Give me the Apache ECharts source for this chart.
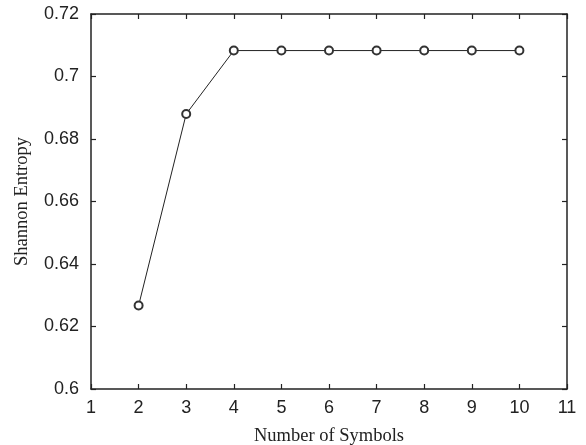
<!DOCTYPE html>
<html>
<head>
<meta charset="utf-8">
<script src="https://cdn.jsdelivr.net/npm/echarts@6/dist/echarts.min.js"></script>
<style>
  html, body { margin: 0; padding: 0; background: #fff; }
  #chart { width: 586px; height: 445px; }
</style>
</head>
<body>
<div id="chart"></div>
<script>
const symbols = [2, 3, 4, 5, 6, 7, 8, 9, 10];
const entropy = [0.6267, 0.688, 0.7083, 0.7083, 0.7083, 0.7083, 0.7083, 0.7083, 0.7083];

const chart = echarts.init(document.getElementById('chart'));

const axisLine = { lineStyle: { color: '#222', width: 1.5 } };
const tick = { inside: true, length: 5, lineStyle: { color: '#222', width: 1.2 } };
const tickFont = { fontFamily: 'Liberation Sans', fontSize: 18, color: '#222' };
const nameFont = { fontFamily: 'Liberation Serif', fontSize: 18.5, color: '#222' };

chart.setOption({
  animation: false,
  grid: { left: 91, right: 19, top: 14, bottom: 56, outerBoundsMode: 'none', containLabel: false },
  xAxis: [{
    type: 'value', min: 1, max: 11, interval: 1,
    name: 'Number of Symbols', nameLocation: 'middle', nameGap: 38,
    nameTextStyle: nameFont,
    axisLine, axisTick: tick, splitLine: { show: false },
    axisLabel: { ...tickFont, margin: 10 }
  }, {
    type: 'value', min: 1, max: 11, interval: 1, position: 'top',
    axisLine, axisTick: tick, splitLine: { show: false }, axisLabel: { show: false }
  }],
  yAxis: [{
    type: 'value', min: 0.6, max: 0.72, interval: 0.02,
    name: 'Shannon Entropy', nameLocation: 'middle', nameGap: 59,
    nameTextStyle: nameFont,
    axisLine, axisTick: tick, splitLine: { show: false },
    axisLabel: { ...tickFont, margin: 12, formatter: v => String(parseFloat(v.toFixed(2))) }
  }, {
    type: 'value', min: 0.6, max: 0.72, interval: 0.02, position: 'right',
    axisLine, axisTick: tick, splitLine: { show: false }, axisLabel: { show: false }
  }],
  series: [{
    type: 'line',
    data: symbols.map((s, i) => [s, entropy[i]]),
    symbol: 'emptyCircle', symbolSize: 8,
    lineStyle: { color: '#222', width: 1 },
    itemStyle: { color: '#333', borderWidth: 0.9 }
  }]
});
</script>
</body>
</html>
